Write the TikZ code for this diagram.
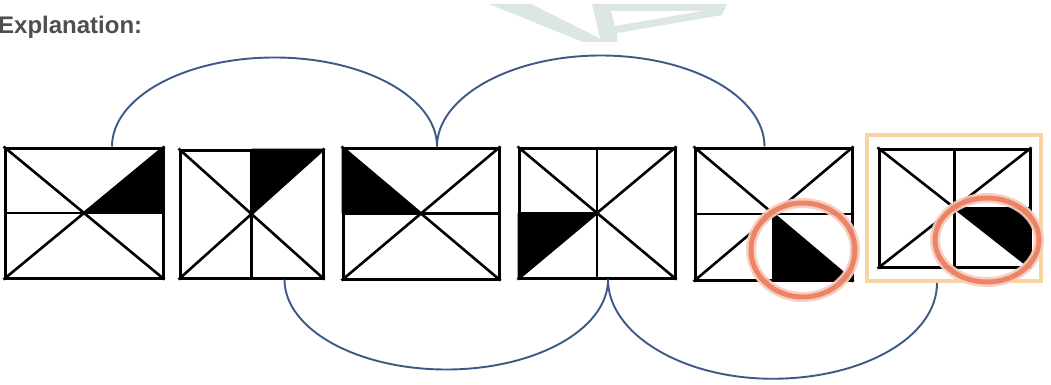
\documentclass[tikz,border=0pt]{standalone}
\usepackage{fontspec}
\setmainfont{Liberation Sans}
\usetikzlibrary{calc,shapes.geometric}
\definecolor{arcblue}{HTML}{3D5A86}
\definecolor{selorange}{HTML}{F9D3A0}
\definecolor{ringred}{HTML}{EC7E5E}
\definecolor{ringhalo}{HTML}{F8CDBE}
\definecolor{wmark}{HTML}{DCE6E2}
\definecolor{textgrey}{HTML}{4F4F4F}
\begin{document}
\begin{tikzpicture}[x=1pt,y=-1pt,
  fig/.style={draw=black, line width=3pt, rectangle, inner sep=0pt, line join=miter},
  figline/.style={line width=2.6pt, draw=black},
  blk/.style={fill=black},
  link/.style={draw=arcblue, line width=1.9pt},
  ring/.style={draw=ringred, line width=5pt, ellipse, inner sep=0pt, opacity=0.92,
    preaction={draw=ringhalo, line width=10pt}},
  selbox/.style={draw=selorange, line width=4pt, rectangle, inner sep=0pt},
  caption/.style={font=\fontsize{24}{28}\selectfont\bfseries, text=textgrey, inner sep=0pt, anchor=base west}]
\useasboundingbox (0,0) rectangle (1051,385);
\fill[white] (0,0) rectangle (1051,385);
% watermark fragment
\fill[wmark] (489,4) -- (531,4) -- (607,42) -- (583,42) -- cycle;
\fill[wmark] (592,4) -- (727,4) -- (722,15) -- (617,33) -- (617,42) -- (601,42) -- cycle;
\fill[white] (611,11) -- (702,11) -- (615,26) -- cycle;
% caption
\node[caption] (cap) at (-2,34) {Explanation:};
% selection frame
\node[selbox, minimum width=174pt, minimum height=146pt] (sel) at (954,208) {};
% figures
\node[fig, minimum width=158pt, minimum height=130pt] (b1) at (84,213) {};
\node[fig, minimum width=143pt, minimum height=128pt] (b2) at (251.5,214) {};
\node[fig, minimum width=156pt, minimum height=131pt] (b3) at (421,213.5) {};
\node[fig, minimum width=156pt, minimum height=130pt] (b4) at (597,213) {};
\node[fig, minimum width=157pt, minimum height=132pt] (b5) at (773.5,214) {};
\node[fig, minimum width=151pt, minimum height=118pt] (b6) at (954.5,208) {};
% shaded triangles
\fill[blk] (b1.center) -- (b1.north east) -- (b1.east) -- cycle;
\fill[blk] (b2.center) -- (b2.north) -- (b2.north east) -- cycle;
\fill[blk] (b3.center) -- (b3.north west) -- (b3.west) -- cycle;
\fill[blk] (b4.center) -- (b4.west) -- (b4.south west) -- cycle;
\fill[blk] (b5.center) -- (b5.south east) -- (b5.south) -- cycle;
\fill[blk] (b6.center) -- (b6.east) -- (b6.south east) -- cycle;
% inner lines
\foreach \b in {b1,b2,b3,b4,b5,b6}{
  \draw[figline] (\b.north west) -- (\b.south east) (\b.north east) -- (\b.south west);
}
\draw[figline] (b1.west) -- (b1.east);
\draw[figline] (b2.north) -- (b2.south);
\draw[figline] (b3.west) -- (b3.east);
\draw[figline] (b4.north) -- (b4.south) (b4.west) -- (b4.center);
\draw[figline] (b5.west) -- (b5.east) (b5.center) -- (b5.south);
\draw[figline] (b6.north) -- (b6.south) (b6.center) -- (b6.east);
% connector end points
\coordinate (t1s) at ([xshift=28pt]b1.north);
\coordinate (t1e) at ([xshift=16pt]b3.north);
\coordinate (t2e) at ([xshift=-9pt]b5.north);
\coordinate (u1s) at ([xshift=33pt]b2.south);
\coordinate (u1e) at ([xshift=11pt]b4.south);
\coordinate (u2e) at ([xshift=-17pt]sel.south);
% upper arcs
\draw[link] (t1s) .. controls +(0,-49.2) and +(-89.7,0) .. ($(t1s)!0.5!(t1e)+(0,-89)$)
  .. controls +(89.7,0) and +(0,-49.2) .. (t1e);
\draw[link] (t1e) .. controls +(0,-49.2) and +(-90.4,0) .. ($(t1e)!0.5!(t2e)+(0,-91)$)
  .. controls +(90.4,0) and +(0,-50) .. (t2e);
% lower arcs
\draw[link] (u1s) .. controls +(0,49.7) and +(-89.3,0) .. ($(u1s)!0.5!(u1e)+(0,90)$)
  .. controls +(89.3,0) and +(0,49.7) .. (u1e);
\draw[link] (u1e) .. controls +(0,53.8) and +(-90.9,0) .. ($(u1e)!0.5!(u2e)+(0,97.5)$)
  .. controls +(90.9,0) and +(0,53.8) .. (u2e);
% highlight rings
\node[ring, minimum width=104pt, minimum height=94pt] (r5) at (803,250) {};
\node[ring, minimum width=104pt, minimum height=84pt] (r6) at (987,240) {};
\end{tikzpicture}
\end{document}
